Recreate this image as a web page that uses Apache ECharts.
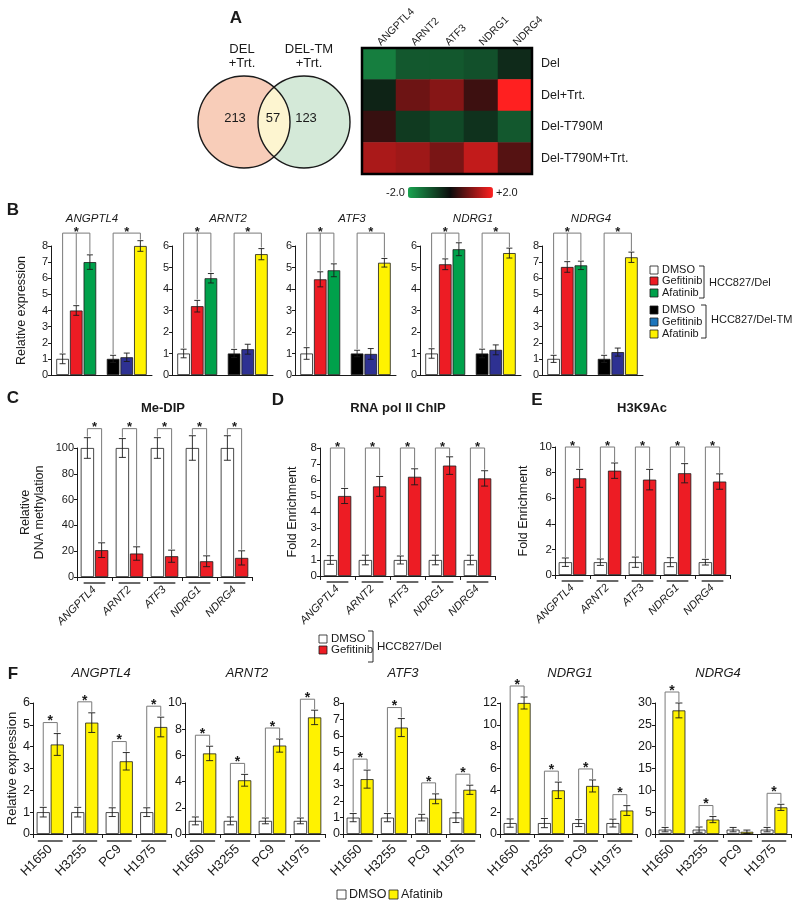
<!DOCTYPE html>
<html><head><meta charset="utf-8">
<script src="https://cdn.jsdelivr.net/npm/echarts@6/dist/echarts.min.js"></script>
<style>html,body{margin:0;padding:0;background:#fff}#c{width:800px;height:908px}</style>
</head><body><div id="c"></div>
<script>
// ---------------- DATA ----------------
// Panel A
const vennSets = ['DEL\n+Trt.', 'DEL-TM\n+Trt.'];
const vennCounts = [213, 57, 123];           // left only, overlap, right only
const heatGenes = ['ANGPTL4', 'ARNT2', 'ATF3', 'NDRG1', 'NDRG4'];
const heatRows = ['Del', 'Del+Trt.', 'Del-T790M', 'Del-T790M+Trt.'];
const heatValues = [
  [-1.5, -1.0, -1.0, -0.9, -0.4],
  [-0.3, 0.8, 1.0, 0.4, 2.0],
  [0.35, -0.6, -0.8, -0.5, -1.0],
  [1.3, 1.2, 0.9, 1.5, 0.6]
];
const heatRange = [-2, 2];

// Panel B
const bGenes = ['ANGPTL4', 'ARNT2', 'ATF3', 'NDRG1', 'NDRG4'];
const bGroups = ['HCC827/Del', 'HCC827/Del-TM'];
const bTreatments = ['DMSO', 'Gefitinib', 'Afatinib'];
const bDelMean = [[1.0, 4.0, 7.0], [1.0, 3.2, 4.5], [1.0, 4.45, 4.87], [1.0, 5.15, 5.85], [1.0, 6.7, 6.8]];
const bDelErr  = [[0.3, 0.3, 0.45], [0.2, 0.27, 0.22], [0.27, 0.35, 0.3], [0.22, 0.25, 0.3], [0.22, 0.33, 0.26]];
const bTMMean  = [[1.0, 1.1, 8.0], [1.0, 1.2, 5.62], [1.0, 0.98, 5.22], [1.0, 1.17, 5.67], [1.0, 1.42, 7.3]];
const bTMErr   = [[0.22, 0.26, 0.33], [0.19, 0.23, 0.26], [0.15, 0.25, 0.2], [0.2, 0.23, 0.23], [0.22, 0.25, 0.32]];
const bYMax = [8, 6, 6, 6, 8];

// Panel C (Me-DIP)
const cGenes = ['ANGPTL4', 'ARNT2', 'ATF3', 'NDRG1', 'NDRG4'];
const cDMSO = [100, 100, 100, 100, 100];
const cDMSOErr = [8, 7.3, 8, 9.5, 9.5];
const cGef = [20.8, 18.2, 16.1, 12.2, 14.8];
const cGefErr = [5.7, 5.2, 4.7, 4.2, 5.5];

// Panel D (RNA pol II ChIP)
const dDMSO = [1, 1, 1, 1, 1];
const dDMSOErr = [0.27, 0.3, 0.25, 0.3, 0.3];
const dGef = [5.0, 5.6, 6.2, 6.9, 6.1];
const dGefErr = [0.47, 0.62, 0.5, 0.55, 0.48];

// Panel E (H3K9Ac)
const eDMSO = [1, 1, 1, 1, 1];
const eDMSOErr = [0.33, 0.25, 0.4, 0.35, 0.22];
const eGef = [7.55, 8.15, 7.45, 7.95, 7.3];
const eGefErr = [0.7, 0.6, 0.8, 0.75, 0.6];

// Panel F
const fGenes = ['ANGPTL4', 'ARNT2', 'ATF3', 'NDRG1', 'NDRG4'];
const fCells = ['H1650', 'H3255', 'PC9', 'H1975'];
const fDMSO = [[1, 1, 1, 1], [1, 1, 1, 1], [1, 1, 1, 1], [1, 1, 1, 1], [1, 1, 1, 1]];
const fDMSOErr = [[0.22, 0.22, 0.2, 0.2], [0.3, 0.3, 0.22, 0.22], [0.25, 0.25, 0.2, 0.3], [0.38, 0.42, 0.32, 0.36], [0.5, 0.6, 0.5, 0.5]];
const fAfa = [[4.1, 5.1, 3.33, 4.9], [6.15, 4.1, 6.75, 8.9], [3.35, 6.5, 2.15, 2.7], [12.0, 4.0, 4.4, 2.15], [28.3, 3.3, 0.5, 6.1]];
const fAfaErr = [[0.5, 0.45, 0.4, 0.45], [0.55, 0.45, 0.5, 0.55], [0.55, 0.55, 0.3, 0.28], [0.55, 0.75, 0.55, 0.45], [1.7, 0.7, 0.4, 0.7]];
const fSig = [[1, 1, 1, 1], [1, 1, 1, 1], [1, 1, 1, 1], [1, 1, 1, 1], [1, 1, 0, 1]];
const fYMax = [6, 10, 8, 12, 30];
const fInterval = [1, 2, 1, 2, 5];

// ---------------- BUILD ----------------
const FONT = '"Liberation Sans", Arial, Helvetica, sans-serif';
const INK = '#1a1a1a';
const RED = '#ed1c24', GREEN = '#00a14b', BLUE = '#2e3192', YELLOW = '#fff200';
const grids = [], xAxes = [], yAxes = [], series = [], graphics = [];

function txt(x, y, text, o) {
  o = o || {};
  const st = {
    text: text, fill: o.color || INK, fontFamily: FONT, fontSize: o.size || 12,
    fontWeight: o.weight || 'normal', fontStyle: o.italic ? 'italic' : 'normal',
    textAlign: o.align || 'center', textVerticalAlign: 'middle',
    align: o.align || 'center', verticalAlign: 'middle'
  };
  if (o.lh) st.lineHeight = o.lh;
  graphics.push({type: 'text', x: x, y: y, z: 50, style: st});
}
function rectBox(x, y, w, h, fill) {
  graphics.push({type: 'rect', z: 50, shape: {x: x, y: y, width: w, height: h},
    style: {fill: fill, stroke: INK, lineWidth: 0.8}});
}
function poly(points) {
  graphics.push({type: 'polyline', z: 50, shape: {points: points}, style: {stroke: INK, lineWidth: 0.9, fill: null}});
}

// Heatmap (panel A)
(function () {
  const gIdx = grids.length;
  grids.push({left: 362, top: 48, width: 170, height: 126, show: true, z: 10,
    backgroundColor: 'transparent', borderColor: '#000', borderWidth: 2.5});
  xAxes.push({gridIndex: gIdx, type: 'category', data: heatGenes, position: 'top',
    axisLine: {show: false}, axisTick: {show: false}, splitLine: {show: false},
    axisLabel: {rotate: -45, fontSize: 10.5, margin: 4, color: INK, fontFamily: FONT, interval: 0}});
  yAxes.push({gridIndex: gIdx, type: 'category', data: heatRows, position: 'right', inverse: true,
    axisLine: {show: false}, axisTick: {show: false}, splitLine: {show: false},
    axisLabel: {fontSize: 12.5, margin: 9, color: INK, fontFamily: FONT}});
  const data = [];
  heatValues.forEach((row, r) => row.forEach((v, c) => data.push([c, r, v])));
  series.push({type: 'heatmap', xAxisIndex: gIdx, yAxisIndex: gIdx, data: data, itemStyle: {borderWidth: 0}});
})();

function barPanel(cfg) {
  const gIdx = grids.length;
  grids.push({left: cfg.left, top: cfg.top, width: cfg.width, height: cfg.height});
  const n = cfg.groups.length, bf = cfg.barFrac, gf = cfg.gapFrac;
  const offset = (k, bw) => (k - (n - 1) / 2) * bw * bf * (1 + gf);
  xAxes.push({
    gridIndex: gIdx, type: 'category', data: cfg.cats,
    axisLine: {show: true, lineStyle: {color: INK, width: 1}},
    axisTick: cfg.xTicks ? {show: true, length: 4, lineStyle: {color: INK}} : {show: false},
    axisLabel: cfg.xLabel ? Object.assign({show: true, interval: 0, color: INK, fontFamily: FONT}, cfg.xLabel) : {show: false},
    splitLine: {show: false}
  });
  yAxes.push({
    gridIndex: gIdx, type: 'value', min: 0, max: cfg.ymax, interval: cfg.interval,
    axisLine: {show: true, lineStyle: {color: INK, width: 1}},
    axisTick: {show: true, length: 3, lineStyle: {color: INK}},
    axisLabel: {color: INK, fontSize: cfg.yFont, margin: 3, fontFamily: FONT},
    splitLine: {show: false},
    name: cfg.yName || '', nameLocation: 'middle', nameGap: cfg.yNameGap || 30,
    nameTextStyle: {fontSize: cfg.yNameFont || 12, color: INK, fontFamily: FONT, lineHeight: 14}
  });
  cfg.groups.forEach((g, k) => {
    series.push({
      type: 'bar', name: g.name, xAxisIndex: gIdx, yAxisIndex: gIdx,
      barWidth: (bf * 100) + '%', barGap: (gf * 100) + '%',
      itemStyle: {borderColor: INK, borderWidth: 0.8},
      data: g.values.map((v, i) => ({value: v, itemStyle: {color: Array.isArray(g.color) ? g.color[i] : g.color}})),
      z: 2
    });
  });
  const errData = [];
  cfg.groups.forEach((g, k) => g.values.forEach((v, i) => errData.push([i, v, g.errs[i], k])));
  series.push({
    type: 'custom', xAxisIndex: gIdx, yAxisIndex: gIdx, clip: false, z: 5,
    encode: {x: 0, y: 1}, data: errData,
    renderItem: function (params, api) {
      const i = api.value(0), v = api.value(1), e = api.value(2), k = api.value(3);
      const bw = api.size([1, 0])[0];
      const hi = api.coord([i, v + e]), lo = api.coord([i, Math.max(0, v - e)]);
      const x = hi[0] + offset(k, bw), c = cfg.cap / 2;
      const st = {stroke: INK, lineWidth: 0.9};
      return {type: 'group', children: [
        {type: 'line', shape: {x1: x, y1: hi[1], x2: x, y2: lo[1]}, style: st},
        {type: 'line', shape: {x1: x - c, y1: hi[1], x2: x + c, y2: hi[1]}, style: st},
        {type: 'line', shape: {x1: x - c, y1: lo[1], x2: x + c, y2: lo[1]}, style: st}
      ]};
    }
  });
  // significance brackets
  series.push({
    type: 'custom', xAxisIndex: gIdx, yAxisIndex: gIdx, clip: false, z: 6,
    encode: {x: 0, y: 1}, data: cfg.brackets,
    renderItem: function (params, api) {
      const i = api.value(0), level = api.value(1), mask = api.value(2);
      const bw = api.size([1, 0])[0];
      const cx = api.coord([i, 0])[0];
      const ks = [];
      for (let k = 0; k < n; k++) if (mask & (1 << k)) ks.push(k);
      const tops = ks.map(k => api.coord([i, cfg.groups[k].values[i] + cfg.groups[k].errs[i]])[1]);
      const y = level >= 0 ? api.coord([i, level])[1] : Math.min.apply(null, tops) - cfg.brOff;
      const xs = ks.map(k => cx + offset(k, bw));
      const st = {stroke: '#7a7a7a', lineWidth: 1};
      const ch = [{type: 'line', shape: {x1: xs[0], y1: y, x2: xs[xs.length - 1], y2: y}, style: st}];
      xs.forEach((x, j) => ch.push({type: 'line', shape: {x1: x, y1: y, x2: x, y2: tops[j] - 1}, style: st}));
      ch.push({type: 'text', x: (xs[0] + xs[xs.length - 1]) / 2, y: y - 1,
        style: {text: '*', fontSize: cfg.starSize || 13, fontFamily: FONT, fill: INK, fontWeight: 'bold',
          textAlign: 'center', textVerticalAlign: 'middle', align: 'center', verticalAlign: 'middle'}});
      return {type: 'group', children: ch};
    }
  });
  if (cfg.underline) {
    series.push({
      type: 'custom', xAxisIndex: gIdx, yAxisIndex: gIdx, clip: false, z: 6,
      encode: {x: 0, y: 1}, data: cfg.cats.map((c, i) => [i, 0]),
      renderItem: function (params, api) {
        const p = api.coord([api.value(0), 0]);
        const bw = api.size([1, 0])[0], hw = bw * cfg.underline / 2;
        return {type: 'line', shape: {x1: p[0] - hw, y1: p[1] + cfg.uOff, x2: p[0] + hw, y2: p[1] + cfg.uOff},
          style: {stroke: INK, lineWidth: 1.3}};
      }
    });
  }
}

// Panel B
const bLefts = [51, 172, 295, 420, 542];
const bTitleX = [92, 228, 352, 473, 591];
bGenes.forEach((gene, gi) => {
  barPanel({
    left: bLefts[gi], top: 246, width: 101, height: 129,
    cats: bGroups, ymax: bYMax[gi], interval: 1, yFont: 11,
    yName: gi === 0 ? 'Relative expression' : '', yNameGap: 22, yNameFont: 12.5,
    barFrac: 0.25, gapFrac: 0.08, cap: 6, xTicks: false,
    groups: [
      {name: bTreatments[0], values: [bDelMean[gi][0], bTMMean[gi][0]], errs: [bDelErr[gi][0], bTMErr[gi][0]], color: ['#ffffff', '#000000']},
      {name: bTreatments[1], values: [bDelMean[gi][1], bTMMean[gi][1]], errs: [bDelErr[gi][1], bTMErr[gi][1]], color: [RED, BLUE]},
      {name: bTreatments[2], values: [bDelMean[gi][2], bTMMean[gi][2]], errs: [bDelErr[gi][2], bTMErr[gi][2]], color: [GREEN, YELLOW]}
    ],
    brackets: [[0, bYMax[gi] * 1.1, 7], [1, bYMax[gi] * 1.1, 5]]
  });
  txt(bTitleX[gi], 219, gene, {italic: true, size: 11.5});
});

// Panels C, D, E
const geneLabel = {rotate: 45, fontStyle: 'italic', fontSize: 11, margin: 11};
barPanel({
  left: 77, top: 448, width: 175, height: 129, cats: cGenes, ymax: 100, interval: 20, yFont: 11,
  yName: 'Relative\nDNA methylation', yNameGap: 30, yNameFont: 12.5,
  barFrac: 0.38, gapFrac: 0.07, cap: 7, xTicks: true, xLabel: geneLabel, underline: 0.62, uOff: 6,
  groups: [
    {name: 'DMSO', values: cDMSO, errs: cDMSOErr, color: '#ffffff'},
    {name: 'Gefitinib', values: cGef, errs: cGefErr, color: RED}
  ],
  brackets: cGenes.map((g, i) => [i, 115, 3])
});
barPanel({
  left: 320, top: 448, width: 175, height: 128, cats: cGenes, ymax: 8, interval: 1, yFont: 11.5,
  yName: 'Fold Enrichment', yNameGap: 20, yNameFont: 12.5,
  barFrac: 0.38, gapFrac: 0.07, cap: 7, xTicks: true, xLabel: geneLabel, underline: 0.62, uOff: 6,
  groups: [
    {name: 'DMSO', values: dDMSO, errs: dDMSOErr, color: '#ffffff'},
    {name: 'Gefitinib', values: dGef, errs: dGefErr, color: RED}
  ],
  brackets: cGenes.map((g, i) => [i, 8, 3])
});
barPanel({
  left: 555, top: 447, width: 175, height: 128, cats: cGenes, ymax: 10, interval: 2, yFont: 11.5,
  yName: 'Fold Enrichment', yNameGap: 24, yNameFont: 12.5,
  barFrac: 0.38, gapFrac: 0.07, cap: 7, xTicks: true, xLabel: geneLabel, underline: 0.62, uOff: 6,
  groups: [
    {name: 'DMSO', values: eDMSO, errs: eDMSOErr, color: '#ffffff'},
    {name: 'Gefitinib', values: eGef, errs: eGefErr, color: RED}
  ],
  brackets: cGenes.map((g, i) => [i, 10, 3])
});

// Panel F
const fLefts = [33, 185, 343, 500, 655];
const fWidths = [138, 140, 137, 137, 136];
const fTitleX = [101, 247, 403, 570, 718];
fGenes.forEach((gene, gi) => {
  const br = [];
  fCells.forEach((c, i) => { if (fSig[gi][i]) br.push([i, -1, 3]); });
  barPanel({
    left: fLefts[gi], top: 703, width: fWidths[gi], height: 131, cats: fCells,
    ymax: fYMax[gi], interval: fInterval[gi], yFont: 12.5,
    yName: gi === 0 ? 'Relative expression' : '', yNameGap: 12, yNameFont: 13,
    barFrac: 0.38, gapFrac: 0.07, cap: 7, xTicks: true,
    xLabel: {rotate: 45, fontSize: 13, margin: 13}, underline: 0.72, uOff: 7,
    groups: [
      {name: 'DMSO', values: fDMSO[gi], errs: fDMSOErr[gi], color: '#ffffff'},
      {name: 'Afatinib', values: fAfa[gi], errs: fAfaErr[gi], color: YELLOW}
    ],
    brackets: br, brOff: 11, starSize: 14
  });
  txt(fTitleX[gi], 673, gene, {italic: true, size: 13});
});

// ---------------- Graphics: venn, letters, titles, legends ----------------
const VL = [244, 122], VR = [304, 122], VRAD = 46;
function lensPoints() {
  const d = VR[0] - VL[0];
  const th = Math.acos((d / 2) / VRAD);
  const pts = [];
  const N = 40;
  for (let j = 0; j <= N; j++) {
    const a = -th + 2 * th * j / N;
    pts.push([VL[0] + VRAD * Math.cos(a), VL[1] + VRAD * Math.sin(a)]);
  }
  for (let j = 0; j <= N; j++) {
    const a = Math.PI - th + 2 * th * j / N;
    pts.push([VR[0] + VRAD * Math.cos(a), VR[1] + VRAD * Math.sin(a)]);
  }
  return pts;
}
graphics.push({type: 'circle', z: 40, shape: {cx: VL[0], cy: VL[1], r: VRAD}, style: {fill: '#f8cdb9'}});
graphics.push({type: 'circle', z: 40, shape: {cx: VR[0], cy: VR[1], r: VRAD}, style: {fill: '#d4e9d8'}});
graphics.push({type: 'polygon', z: 41, shape: {points: lensPoints()}, style: {fill: '#fdf5d0'}});
graphics.push({type: 'circle', z: 42, shape: {cx: VL[0], cy: VL[1], r: VRAD}, style: {fill: 'transparent', stroke: INK, lineWidth: 1.4}});
graphics.push({type: 'circle', z: 42, shape: {cx: VR[0], cy: VR[1], r: VRAD}, style: {fill: 'transparent', stroke: INK, lineWidth: 1.4}});
txt(242, 56, vennSets[0], {size: 13, lh: 14});
txt(309, 56, vennSets[1], {size: 13, lh: 14});
txt(235, 118, String(vennCounts[0]), {size: 13});
txt(273, 118, String(vennCounts[1]), {size: 13});
txt(306, 118, String(vennCounts[2]), {size: 13});

// panel letters
txt(236, 18, 'A', {size: 17, weight: 'bold'});
txt(13, 210, 'B', {size: 17, weight: 'bold'});
txt(13, 398, 'C', {size: 17, weight: 'bold'});
txt(278, 400, 'D', {size: 17, weight: 'bold'});
txt(537, 400, 'E', {size: 17, weight: 'bold'});
txt(13, 674, 'F', {size: 17, weight: 'bold'});

// panel titles
txt(163, 408, 'Me-DIP', {size: 13, weight: 'bold'});
txt(398, 408, 'RNA pol II ChIP', {size: 13, weight: 'bold'});
txt(642, 408, 'H3K9Ac', {size: 13, weight: 'bold'});

// B legend
const bLegY = [270, 281, 293, 310, 322, 334];
const bLegFill = ['#ffffff', RED, GREEN, '#000000', '#1c75bc', YELLOW];
bLegY.forEach((y, j) => {
  rectBox(650, y - 4, 8, 8, bLegFill[j]);
  txt(662, y, bTreatments[j % 3], {size: 11, align: 'left'});
});
poly([[699, 266], [704, 266], [704, 298], [699, 298]]);
txt(709, 283, bGroups[0], {size: 11, align: 'left'});
poly([[701, 305], [706, 305], [706, 338], [701, 338]]);
txt(711, 320, bGroups[1], {size: 11, align: 'left'});

// D/E legend
rectBox(319, 635, 8, 8, '#ffffff');
txt(331, 639, 'DMSO', {size: 11.5, align: 'left'});
rectBox(319, 646, 8, 8, RED);
txt(331, 650, 'Gefitinib', {size: 11.5, align: 'left'});
poly([[368, 631], [373, 631], [373, 662], [368, 662]]);
txt(377, 647, bGroups[0], {size: 11.5, align: 'left'});

// F legend
rectBox(337, 890, 9, 9, '#ffffff');
txt(349, 894.5, 'DMSO', {size: 12.5, align: 'left'});
rectBox(389, 890, 9, 9, YELLOW);
txt(401, 894.5, 'Afatinib', {size: 12.5, align: 'left'});

const chart = echarts.init(document.getElementById('c'), null, {renderer: 'canvas'});
chart.setOption({
  animation: false,
  backgroundColor: '#ffffff',
  textStyle: {fontFamily: FONT},
  grid: grids, xAxis: xAxes, yAxis: yAxes, series: series,
  visualMap: {
    type: 'continuous', min: heatRange[0], max: heatRange[1], seriesIndex: [0],
    orient: 'horizontal', left: 371, top: 172, itemWidth: 11, itemHeight: 85,
    text: ['+2.0', '-2.0'], textGap: 3, calculable: false,
    textStyle: {fontSize: 11, color: INK, fontFamily: FONT},
    inRange: {color: ['#19a450', '#0c0c0c', '#ff2020']}
  },
  graphic: graphics
});
</script></body></html>
